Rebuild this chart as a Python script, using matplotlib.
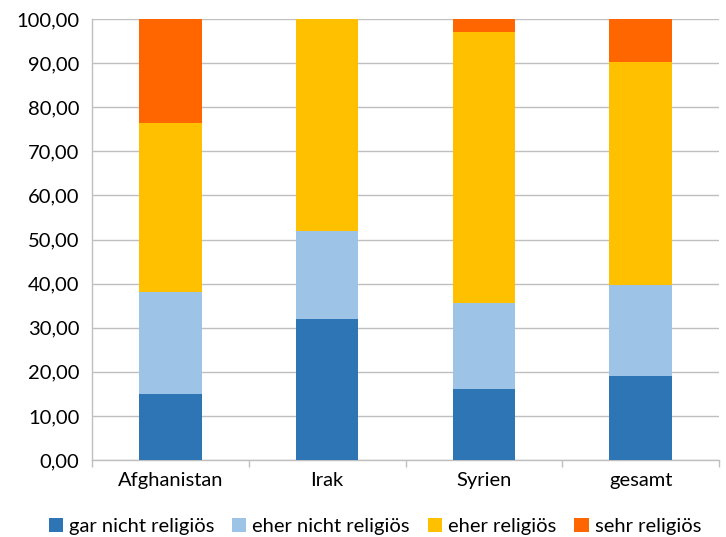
import matplotlib.pyplot as plt
import numpy as np
from matplotlib.ticker import FixedLocator, FuncFormatter

plt.rcParams['font.family'] = ['Lato', 'DejaVu Sans']

categories = ['Afghanistan', 'Irak', 'Syrien', 'gesamt']
series_names = ['gar nicht religiös', 'eher nicht religiös', 'eher religiös', 'sehr religiös']
gar_nicht = [15.0, 32.0, 16.1, 19.0]
eher_nicht = [23.1, 19.9, 19.5, 20.7]
eher = [38.3, 48.1, 61.5, 50.5]
sehr = [23.6, 0.0, 2.9, 9.8]
colors = ['#2E75B6', '#9DC3E6', '#FFC000', '#FF6600']

fig = plt.figure(figsize=(7.26, 5.37), dpi=100)
ax = fig.add_axes([0.1267, 0.1434, 0.8637, 0.8212])

x = np.arange(len(categories))
bottom = np.zeros(len(categories))
for name, vals, col in zip(series_names, [gar_nicht, eher_nicht, eher, sehr], colors):
    ax.bar(x, vals, width=0.4, bottom=bottom, color=col, label=name, zorder=3)
    bottom += np.array(vals)

ax.set_xlim(-0.5, len(categories) - 0.5)
ax.set_ylim(0, 100)
ax.set_yticks(np.arange(0, 101, 10))
ax.yaxis.set_major_formatter(FuncFormatter(lambda v, p: f'{v:.2f}'.replace('.', ',')))
ax.set_xticks(x)
ax.set_xticklabels(categories)
ax.xaxis.set_minor_locator(FixedLocator(np.arange(-0.5, len(categories), 1.0)))
ax.tick_params(axis='x', which='major', length=0, labelsize=14.5, pad=9)
ax.tick_params(axis='x', which='minor', length=5, color='#BFBFBF', width=1)
ax.tick_params(axis='y', length=0, labelsize=14.5, pad=9)

ax.grid(axis='y', color='#BFBFBF', linewidth=1, zorder=0)
for s in ['top', 'right']:
    ax.spines[s].set_visible(False)
for s in ['left', 'bottom']:
    ax.spines[s].set_color('#BFBFBF')
    ax.spines[s].set_linewidth(1)

ax.legend(loc='upper center', bbox_to_anchor=(0.451, -0.09), ncol=4, frameon=False,
          fontsize=14.5, handlelength=0.7, handleheight=0.7, handletextpad=0.3, columnspacing=0.9)

fig.savefig('out.png', dpi=100)
